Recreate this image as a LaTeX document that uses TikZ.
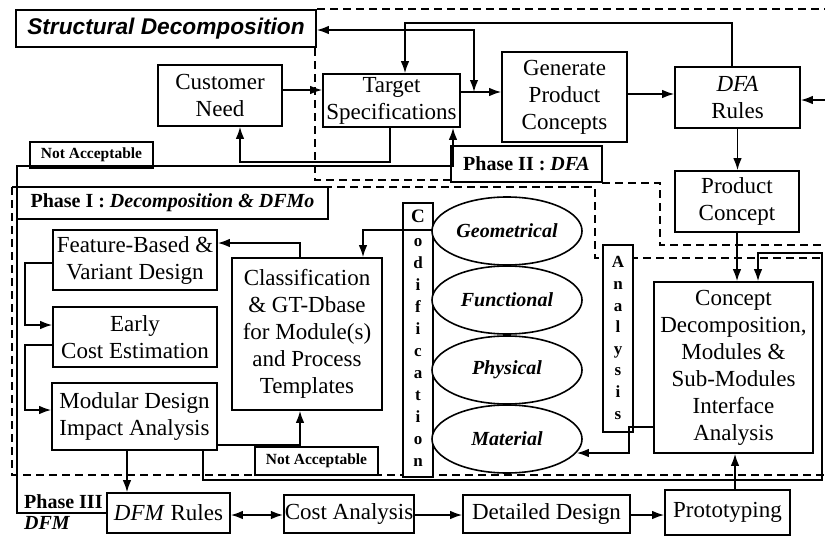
\documentclass[tikz,border=0pt]{standalone}
\usepackage{fontspec}
\setmainfont{Liberation Serif}
\newfontfamily\sdfont{Liberation Sans}
\usetikzlibrary{arrows.meta,shapes.geometric}
\newcommand\msz{\fontsize{23}{27}\selectfont}
\begin{document}
\begin{tikzpicture}[x=1pt,y=-1pt,
  box/.style={draw, line width=1.6pt, fill=white, inner sep=1pt, align=center, font=\msz},
  lbl/.style={draw, line width=1.6pt, fill=white, inner sep=1pt, align=center, font=\bfseries\fontsize{20}{24}\selectfont},
  nabox/.style={draw, line width=1.6pt, fill=white, inner sep=1pt, font=\bfseries\fontsize{15.5}{18}\selectfont, minimum width=123pt},
  ell/.style={draw, line width=1.6pt, fill=white, ellipse, inner sep=0pt, minimum width=150pt, minimum height=68pt, font=\bfseries\itshape\fontsize{20}{24}\selectfont},
  arr/.style={line width=1.6pt, -{Latex[length=12pt,width=8.5pt]}},
  darr/.style={line width=1.6pt, {Latex[length=12pt,width=8.5pt]}-{Latex[length=12pt,width=8.5pt]}},
  ln/.style={line width=1.6pt},
  dsh/.style={line width=1.1pt, dash pattern=on 8pt off 5pt},
  vlet/.style={inner sep=0pt, align=center, font=\bfseries\fontsize{17}{22}\selectfont}]
\useasboundingbox (0,0) rectangle (825,536);

% dashed phase boundaries
\draw[dsh] (317,9) -- (825,9);
\draw[dsh] (315,9) -- (315,180) -- (452,180);
\draw[dsh] (602,183) -- (660,183) -- (660,245) -- (825,245);
\draw[dsh] (12,187) -- (595,187) -- (595,258) -- (825,258);
\draw[dsh] (12,187) -- (12,475) -- (825,475);

% nodes
\node[box, font={\sdfont\bfseries\itshape\fontsize{22.7}{27}\selectfont}, minimum width=300pt, minimum height=37pt] (SD) at (166,28.5) {Structural Decomposition};
\node[box, minimum width=124pt, minimum height=61pt] (CN) at (220,95.5) {Customer\\Need};
\node[box, minimum width=137pt, minimum height=53pt] (TS) at (391.5,100.5) {Target\\Specifications};
\node[box, minimum width=125pt, minimum height=90pt] (GP) at (564.5,97) {Generate\\Product\\Concepts};
\node[box, minimum width=125pt, minimum height=61pt] (DR) at (737.5,97.5) {\textit{DFA}\\Rules};
\node[box, minimum width=124pt, minimum height=61pt] (PC) at (737,201.5) {Product\\Concept};
\node[box, minimum width=159pt, minimum height=171pt] (CD) at (733.5,367.5) {Concept\\Decomposition,\\Modules \&\\Sub-Modules\\Interface\\Analysis};
\node[box, minimum width=164pt, minimum height=60pt] (FB) at (135,260) {Feature-Based \&\\Variant Design};
\node[box, minimum width=164pt, minimum height=60pt] (EC) at (135,337) {Early\\Cost Estimation};
\node[box, minimum width=165pt, minimum height=67pt] (MD) at (134.5,416.5) {Modular Design\\Impact Analysis};
\node[box, minimum width=150pt, minimum height=152pt] (CL) at (307,334) {Classification\\\& GT-Dbase\\for Module(s)\\and Process\\Templates};

\node[nabox, minimum height=26pt] (NA1) at (91.5,155) {Not Acceptable};
\node[nabox, minimum height=28pt] (NA2) at (316.5,461) {Not Acceptable};
\node[lbl, minimum width=151pt, minimum height=36pt] (P2) at (526.5,164) {Phase II : \textit{DFA}};
\node[lbl, minimum width=311pt, minimum height=32pt] (P1) at (172.5,203) {Phase I : \textit{Decomposition \& DFMo}};
\node[anchor=west, inner sep=0pt, font=\bfseries\fontsize{20}{24}\selectfont] (P3) at (24,502) {Phase III};
\node[anchor=west, inner sep=0pt, font=\bfseries\itshape\fontsize{20}{24}\selectfont] (P3b) at (24,523) {DFM};

% codification column
\node[draw, line width=1.6pt, fill=white, minimum width=30pt, minimum height=274pt, inner sep=0pt] (CO) at (418,340) {};
\coordinate (cdv) at (418,230);
\draw[ln] (cdv -| CO.west) -- (cdv -| CO.east);
\node[vlet, font=\bfseries\fontsize{19}{22}\selectfont] (COc) at (418,216.5) {C};
\node[vlet] (COt) at (418,352.5) {o\\d\\i\\f\\i\\c\\a\\t\\i\\o\\n};

% ellipses
\node[ell] (GE) at (507,231) {Geometrical};
\node[ell] (FU) at (507,300) {Functional};
\node[ell] (PH) at (507,370) {Physical};
\node[ell] (MA) at (507,439) {Material};

% analysis column
\node[draw, line width=1.6pt, fill=white, minimum width=30pt, minimum height=187pt, inner sep=0pt] (AN) at (618,338.5) {};
\node[vlet, font=\bfseries\fontsize{17}{21.6}\selectfont] (ANt) at (618,338) {A\\n\\a\\l\\y\\s\\i\\s};

% bottom row
\node[box, minimum width=123pt, minimum height=40pt] (DM) at (168.5,513) {\textit{DFM} Rules};
\node[box, minimum width=128pt, minimum height=38pt] (CA) at (349,514) {Cost Analysis};
\node[box, minimum width=167pt, minimum height=38pt] (DD) at (546.5,514) {Detailed Design};
\node[box, minimum width=125pt, minimum height=45pt] (PR) at (727.5,512.5) {Prototyping};

% helper coordinates
\coordinate (re) at (825,100);
\coordinate (t1) at (405,23);
\coordinate (sdj) at (474,92);
\coordinate (c2) at (240,162);
\coordinate (c3) at (17,166);
\coordinate (c4) at (453,166);
\coordinate (c5) at (300,243);
\coordinate (c6) at (363,230);
\coordinate (c7) at (25,263);
\coordinate (c8) at (25,325);
\coordinate (c7b) at (25,345);
\coordinate (c8b) at (25,410);
\coordinate (c9) at (127,451);
\coordinate (c10) at (300,445);
\coordinate (c11) at (203,480);
\coordinate (c12) at (822,253);
\coordinate (c13) at (758,253);
\coordinate (c14) at (629,427);
\coordinate (c15) at (629,453);
\coordinate (c16) at (735,490);
\coordinate (c17) at (0,515);

% connectors
\draw[arr] ([yshift=5.5pt]CN.east) -- ([yshift=10.5pt]TS.west);
\draw[arr] ([yshift=8.5pt]TS.east) -- ([yshift=5pt]GP.west);
\draw[arr] ([yshift=3pt]GP.east) -- ([yshift=3.5pt]DR.west);
\draw[arr] (re) -- (re -| DR.east);
\draw[arr] (DR.south) -- (DR.south |- PC.north);
\draw[arr] (PC.south) -- (PC.south |- CD.north);
\draw[arr] ([xshift=-5.5pt]DR.north) |- (t1) -- (t1 |- TS.north);
\draw[darr] ([yshift=-1.5pt]SD.east) -| (sdj);
\draw[arr] ([xshift=-1.5pt]TS.south) |- (c2) -- (c2 |- CN.south);
\draw[arr] (DM.west) -| (c3) -- (c4) -- (c4 |- TS.south);
\draw[arr] (c5 |- CL.north) -- (c5) -- (c5 -| FB.east);
\draw[arr] (c6 -| CO.west) -- (c6) -- (c6 |- CL.north);
\draw[arr] (c7 -| FB.west) -- (c7) -- (c8) -- (c8 -| EC.west);
\draw[arr] (c7b -| EC.west) -- (c7b) -- (c8b) -- (c8b -| MD.west);
\draw[arr] (c9 |- MD.south) -- (c9 |- DM.north);
\draw[arr] (c10 -| MD.east) -- (c10) -- (c10 |- CL.south);
\draw[arr] (c11 |- MD.south) -- (c11) -| (c12) -- (c13) -- (c13 |- CD.north);
\draw[arr] (c14 -| CD.west) -- (c14) -- (c15) -- (c15 -| MA.-11);
\draw[arr] (c16 |- PR.north) -- (c16 |- CD.south);
\draw[darr] (c17 -| DM.east) -- (c17 -| CA.west);
\draw[arr] (c17 -| CA.east) -- (c17 -| DD.west);
\draw[arr] (c17 -| DD.east) -- (c17 -| PR.west);
\end{tikzpicture}
\end{document}
